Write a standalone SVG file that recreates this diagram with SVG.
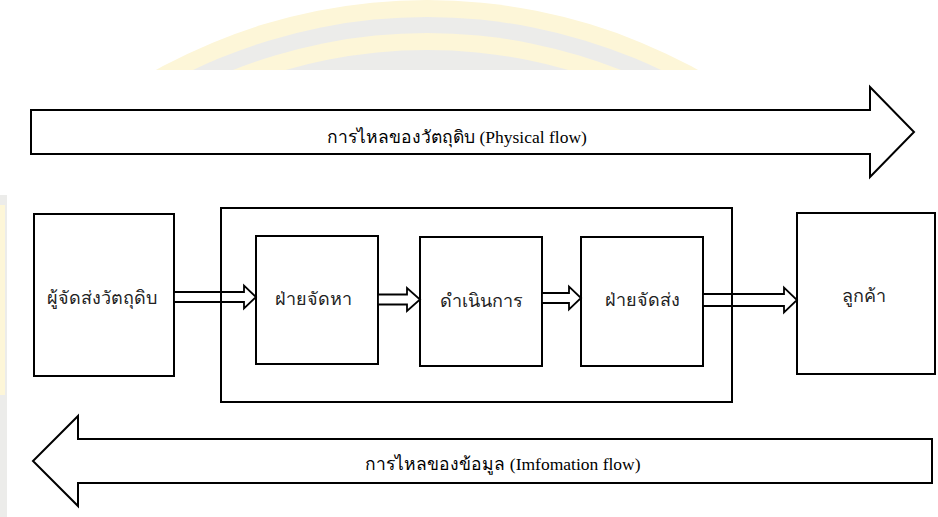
<svg xmlns="http://www.w3.org/2000/svg" width="938" height="517" viewBox="0 0 938 517">
  <defs>
    <clipPath id="wmclip"><rect x="0" y="0" width="938" height="70"/></clipPath>
    <style>
      .box { fill: #ffffff; stroke: #000000; stroke-width: 2; }
      .frame { fill: none; stroke: #000000; stroke-width: 2; }
      .big { fill: #ffffff; stroke: #000000; stroke-width: 2; stroke-linejoin: miter; }
      .small { fill: #ffffff; stroke: #000000; stroke-width: 1.8; stroke-linejoin: miter; }
      .lbl { font-family: "Noto Sans", "DejaVu Sans", sans-serif; font-size: 18px; fill: #222222; text-anchor: middle; }
      .flow { font-family: "Liberation Serif", "Noto Serif", serif; font-size: 17.5px; fill: #000000; text-anchor: middle; }
    </style>
  </defs>

  <rect x="0" y="0" width="938" height="517" fill="#ffffff"/>

  <!-- faint watermark -->
  <g id="watermark" clip-path="url(#wmclip)">
    <circle cx="427" cy="560" r="560" fill="#fdf6d8"/>
    <circle cx="427" cy="560" r="543" fill="#ececea"/>
    <circle cx="427" cy="560" r="527" fill="#fdf6d8"/>
    <circle cx="427" cy="560" r="510" fill="#ececea"/>
  </g>
  <rect x="0" y="195" width="7" height="322" fill="#ececea"/>
  <rect x="0" y="205" width="5" height="190" fill="#fdf6d8"/>

  <!-- big flow arrows -->
  <g id="physical-flow">
    <polygon class="big" points="31,110 870,110 870,87 914,132 870,177 870,154 31,154"/>
    <text class="flow" x="457" y="143">การไหลของวัตถุดิบ (Physical flow)</text>
  </g>
  <g id="information-flow">
    <polygon class="big" points="932,439 78,439 78,416 33,461 78,506 78,483 932,483"/>
    <text class="flow" x="503" y="470">การไหลของข้อมูล (Imfomation flow)</text>
  </g>

  <!-- nodes -->
  <g id="supplier">
    <rect class="box" x="34" y="214" width="140" height="162"/>
    <text class="lbl" x="102" y="304">ผู้จัดส่งวัตถุดิบ</text>
  </g>
  <g id="procurement">
    <rect class="box" x="256" y="236" width="122" height="128"/>
    <text class="lbl" x="313" y="305">ฝ่ายจัดหา</text>
  </g>
  <g id="operations">
    <rect class="box" x="420" y="237" width="122" height="129"/>
    <text class="lbl" x="481" y="307">ดำเนินการ</text>
  </g>
  <g id="distribution">
    <rect class="box" x="581" y="237" width="122" height="129"/>
    <text class="lbl" x="642" y="306">ฝ่ายจัดส่ง</text>
  </g>
  <g id="customer">
    <rect class="box" x="797" y="213" width="138" height="161"/>
    <text class="lbl" x="864" y="302">ลูกค้า</text>
  </g>

  <!-- connectors -->
  <g id="connectors">
    <polygon class="small" points="174,292 244,292 244,285.5 256,297 244,308.5 244,302 174,302"/>
    <polygon class="small" points="378,294.5 407,294.5 407,288 420,299.5 407,311 407,304.5 378,304.5"/>
    <polygon class="small" points="542,293 569,293 569,286.5 581,298 569,309.5 569,303 542,303"/>
    <polygon class="small" points="703,294 784,294 784,287.5 797,300 784,312.5 784,306 703,306"/>
  </g>

  <!-- enclosing frame drawn over connectors -->
  <g id="company">
    <rect class="frame" x="221" y="208" width="511" height="194"/>
  </g>
</svg>
